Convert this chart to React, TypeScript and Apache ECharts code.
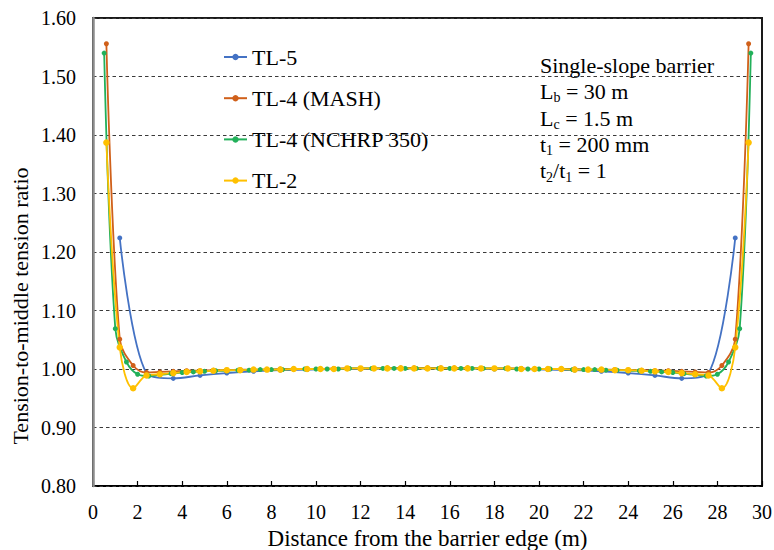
import React, { useEffect, useRef } from "react";
import * as echarts from "echarts";

const FONT = "Liberation Serif";

const xTL2 = [0.6, 1.2, 1.8, 2.4, 3.0, 3.6, 4.2, 4.8, 5.4, 6.0, 6.6, 7.2, 7.8, 8.4, 9.0, 9.6, 10.2, 10.8, 11.4, 12.0, 12.6, 13.2, 13.8, 14.4, 15.0, 15.6, 16.2, 16.8, 17.4, 18.0, 18.6, 19.2, 19.8, 20.4, 21.0, 21.6, 22.2, 22.8, 23.4, 24.0, 24.6, 25.2, 25.8, 26.4, 27.0, 27.6, 28.2, 28.8, 29.4];
const yTL2 = [1.387, 1.037, 0.967, 0.989, 0.991, 0.993, 0.995, 0.996, 0.997, 0.998, 0.998, 0.999, 0.999, 0.999, 1.000, 1.000, 1.000, 1.000, 1.001, 1.001, 1.001, 1.001, 1.001, 1.001, 1.001,
  1.001, 1.001, 1.001, 1.001, 1.001, 1.001, 1.000, 1.000, 1.000, 1.000, 0.999, 0.999, 0.999, 0.998, 0.998, 0.997, 0.996, 0.995, 0.993, 0.991, 0.989, 0.967, 1.037, 1.387];

const xMASH = [0.6, 1.2, 1.8, 2.4, 3.0, 3.6, 4.2, 4.8, 5.4, 6.0, 6.6, 7.2, 7.8, 8.4, 9.0, 9.6, 10.2, 10.8, 11.4, 12.0, 12.6, 13.2, 13.8, 14.4, 15.0, 15.6, 16.2, 16.8, 17.4, 18.0, 18.6, 19.2, 19.8, 20.4, 21.0, 21.6, 22.2, 22.8, 23.4, 24.0, 24.6, 25.2, 25.8, 26.4, 27.0, 27.6, 28.2, 28.8, 29.4];
const yMASH = [1.556, 1.051, 1.006, 0.994, 0.995, 0.996, 0.997, 0.997, 0.998, 0.998, 0.999, 0.999, 0.999, 1.000, 1.000, 1.000, 1.000, 1.001, 1.001, 1.001, 1.001, 1.002, 1.002, 1.002, 1.002,
  1.002, 1.002, 1.002, 1.001, 1.001, 1.001, 1.001, 1.000, 1.000, 1.000, 1.000, 0.999, 0.999, 0.999, 0.998, 0.998, 0.997, 0.997, 0.996, 0.995, 0.994, 1.006, 1.051, 1.556];

const xNCHRP = [0.5, 1.0, 1.5, 2.0, 2.5, 3.0, 3.5, 4.0, 4.5, 5.0, 5.5, 6.0, 6.5, 7.0, 7.5, 8.0, 8.5, 9.0, 9.5, 10.0, 10.5, 11.0, 11.5, 12.0, 12.5, 13.0, 13.5, 14.0, 14.5, 15.0, 15.5, 16.0, 16.5, 17.0, 17.5, 18.0, 18.5, 19.0, 19.5, 20.0, 20.5, 21.0, 21.5, 22.0, 22.5, 23.0, 23.5, 24.0, 24.5, 25.0, 25.5, 26.0, 26.5, 27.0, 27.5, 28.0, 28.5, 29.0, 29.5];
const yNCHRP = [1.540, 1.069, 1.012, 0.991, 0.988, 0.990, 0.992, 0.994, 0.995, 0.996, 0.997, 0.997, 0.998, 0.998, 0.999, 0.999, 0.999, 1.000, 1.000, 1.000, 1.000, 1.000, 1.001, 1.001, 1.001, 1.001, 1.001, 1.001, 1.001, 1.001,
  1.001, 1.001, 1.001, 1.001, 1.001, 1.001, 1.001, 1.000, 1.000, 1.000, 1.000, 1.000, 0.999, 0.999, 0.999, 0.998, 0.998, 0.997, 0.997, 0.996, 0.995, 0.994, 0.992, 0.990, 0.988, 0.991, 1.012, 1.069, 1.540];

const xTL5 = [1.2, 2.4, 3.6, 4.8, 6.0, 7.2, 8.4, 9.6, 10.8, 12.0, 13.2, 14.4, 15.6, 16.8, 18.0, 19.2, 20.4, 21.6, 22.8, 24.0, 25.2, 26.4, 27.6, 28.8];
const yTL5 = [1.224, 0.993, 0.984, 0.989, 0.993, 0.996, 0.998, 0.999, 1.000, 1.000, 1.001, 1.001, 1.001, 1.001, 1.000, 1.000, 0.999, 0.998, 0.996, 0.993, 0.989, 0.984, 0.993, 1.224];

const seriesNames = ["TL-5", "TL-4 (MASH)", "TL-4 (NCHRP 350)", "TL-2"];
const seriesColors = ["#4472C4", "#D0601A", "#22B05A", "#FFC000"];

const xTickLabels = ["0", "2", "4", "6", "8", "10", "12", "14", "16", "18", "20", "22", "24", "26", "28", "30"];

const pairs = (xs: number[], ys: number[]) => xs.map((x, i) => [x, ys[i]]);

export default function App() {
  const ref = useRef<HTMLDivElement>(null);
  useEffect(() => {
    if (!ref.current) return;
    const chart = echarts.init(ref.current, undefined, { renderer: "svg" });
    const datasets = [pairs(xTL5, yTL5), pairs(xMASH, yMASH), pairs(xNCHRP, yNCHRP), pairs(xTL2, yTL2)];
    const sizes = [5, 5, 5, 6.5];
    chart.setOption({
      animation: false,
      backgroundColor: "#ffffff",
      textStyle: { fontFamily: FONT },
      grid: {
        left: 93, right: 12, top: 18, bottom: 64,
        show: true, borderColor: "#1a1a1a", borderWidth: 2,
        containLabel: false, outerBoundsMode: "none",
      },
      legend: {
        orient: "vertical",
        left: 218,
        top: 41,
        itemGap: 19.2,
        itemWidth: 23,
        itemHeight: 8,
        textStyle: { fontSize: 22, lineHeight: 22, fontFamily: FONT, color: "#000" },
        data: seriesNames,
      },
      xAxis: {
        type: "value",
        min: 0,
        max: 30,
        interval: 2,
        name: "Distance from the barrier edge (m)",
        nameLocation: "middle",
        nameGap: 41,
        nameTextStyle: { fontSize: 23, fontFamily: FONT, color: "#000" },
        axisLine: { show: true, lineStyle: { color: "#000", width: 2 } },
        axisTick: { show: true, inside: true, length: 5, lineStyle: { color: "#000", width: 1.2 } },
        axisLabel: {
          fontSize: 20,
          fontFamily: FONT,
          color: "#000",
          margin: 16,
          formatter: (v: number) => xTickLabels[Math.round(v / 2)] ?? String(v),
        },
        splitLine: { show: false },
      },
      yAxis: {
        type: "value",
        min: 0.8,
        max: 1.6,
        interval: 0.1,
        z: 3,
        axisLine: { show: true, lineStyle: { color: "#8c8c8c", width: 2.5 } },
        axisTick: { show: false },
        axisLabel: {
          fontSize: 20,
          fontFamily: FONT,
          color: "#000",
          margin: 17,
          formatter: (v: number) => v.toFixed(2),
        },
        splitLine: { show: true, lineStyle: { color: "#3a3a3a", width: 1, type: [3.5, 3] } },
      },
      graphic: [
        {
          type: "text",
          x: 20,
          y: 306,
          rotation: Math.PI / 2,
          style: {
            text: "Tension-to-middle tension ratio",
            fontSize: 22,
            fontFamily: FONT,
            fill: "#000",
            align: "center",
            verticalAlign: "middle",
          },
        },
        {
          type: "text",
          left: 540,
          top: 52,
          style: {
            text: "Single-slope barrier\nL{s|b} = 30 m\nL{s|c} = 1.5 m\nt{s|1} = 200 mm\nt{s|2}/t{s|1} = 1",
            fontSize: 22,
            lineHeight: 26.4,
            fontFamily: FONT,
            fill: "#000",
            rich: {
              s: { fontSize: 14, fontFamily: FONT, fill: "#000", verticalAlign: "bottom" },
            },
          },
        },
      ],
      series: seriesNames.map((name, i) => ({
        name,
        type: "line",
        data: datasets[i],
        smooth: 0.35,
        symbol: "circle",
        symbolSize: sizes[i],
        showSymbol: true,
        color: seriesColors[i],
        itemStyle: { color: seriesColors[i] },
        lineStyle: { color: seriesColors[i], width: 1.8 },
        emphasis: { disabled: true },
      })),
    });
    return () => chart.dispose();
  }, []);
  return <div ref={ref} style={{ position: "fixed", left: 0, top: 0, width: 774, height: 550 }} />;
}
